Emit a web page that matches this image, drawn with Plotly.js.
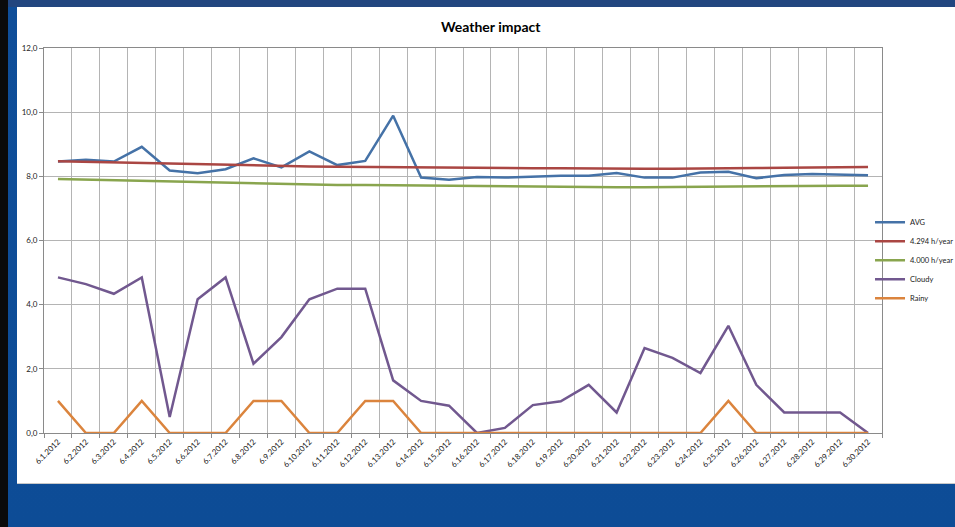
<!DOCTYPE html>
<html>
<head>
<meta charset="utf-8">
<script src="https://cdn.plot.ly/plotly-3.0.1.min.js"></script>
<style>
  html, body { margin: 0; padding: 0; width: 955px; height: 527px; overflow: hidden; }
  body { background: linear-gradient(#0f4e99, #0d4c96); position: relative; }
  #topbar { position: absolute; left: 0; top: 0; width: 955px; height: 7px; background: #22467f; }
  #leftbar { position: absolute; left: 0; top: 0; width: 8px; height: 527px; background: #0a0a0a; }
  #panel { position: absolute; left: 17px; top: 7px; width: 938px; height: 476px; background: #ffffff; border-bottom: 1px solid #c8c8c8; overflow: hidden; }
  #chart { width: 938px; height: 476px; }
</style>
</head>
<body>
<div id="topbar"></div>
<div id="leftbar"></div>
<div id="panel"><div id="chart"></div></div>
<script>
const categories = ["6.1.2012","6.2.2012","6.3.2012","6.4.2012","6.5.2012","6.6.2012","6.7.2012","6.8.2012","6.9.2012","6.10.2012",
  "6.11.2012","6.12.2012","6.13.2012","6.14.2012","6.15.2012","6.16.2012","6.17.2012","6.18.2012","6.19.2012","6.20.2012",
  "6.21.2012","6.22.2012","6.23.2012","6.24.2012","6.25.2012","6.26.2012","6.27.2012","6.28.2012","6.29.2012","6.30.2012"];

const avg = [8.46, 8.52, 8.46, 8.92, 8.18, 8.10, 8.22, 8.56, 8.28, 8.78,
  8.35, 8.48, 9.89, 7.96, 7.89, 7.98, 7.96, 7.99, 8.02, 8.02,
  8.10, 7.96, 7.96, 8.12, 8.14, 7.94, 8.04, 8.07, 8.04, 8.03];

const target4294 = [8.47, 8.45, 8.43, 8.41, 8.39, 8.37, 8.36, 8.34, 8.32, 8.31,
  8.30, 8.29, 8.28, 8.27, 8.27, 8.26, 8.25, 8.25, 8.25, 8.24,
  8.24, 8.24, 8.24, 8.24, 8.25, 8.26, 8.27, 8.28, 8.29, 8.29];

const target4000 = [7.92, 7.90, 7.88, 7.86, 7.84, 7.82, 7.80, 7.78, 7.76, 7.74,
  7.73, 7.73, 7.72, 7.71, 7.70, 7.69, 7.69, 7.68, 7.67, 7.66,
  7.66, 7.66, 7.67, 7.67, 7.68, 7.68, 7.69, 7.70, 7.71, 7.71];

const cloudy = [4.85, 4.64, 4.34, 4.85, 0.50, 4.17, 4.85, 2.16, 2.99, 4.17,
  4.50, 4.50, 1.64, 1.00, 0.85, 0.00, 0.16, 0.87, 0.99, 1.50,
  0.64, 2.65, 2.34, 1.87, 3.34, 1.50, 0.64, 0.64, 0.64, 0.00];

const rainy = [1, 0, 0, 1, 0, 0, 0, 1, 1, 0,
  0, 1, 1, 0, 0, 0, 0, 0, 0, 0,
  0, 0, 0, 0, 1, 0, 0, 0, 0, 0];

const seriesNames = ["AVG", "4.294 h/year", "4.000 h/year", "Cloudy", "Rainy"];
const seriesColors = ["#4572A7", "#AA4643", "#89A54E", "#71588F", "#DB843D"];
const seriesData = [avg, target4294, target4000, cloudy, rainy];

const yTicks = [0, 2, 4, 6, 8, 10, 12];

const font = "Lato, 'Open Sans', sans-serif";

const traces = seriesData.map((d, i) => ({
  type: "scatter",
  mode: "lines",
  name: seriesNames[i],
  x: categories,
  y: d,
  line: { color: seriesColors[i], width: 2.5 },
  hoverinfo: "skip"
}));

const layout = {
  width: 938,
  height: 476,
  paper_bgcolor: "#ffffff",
  plot_bgcolor: "#ffffff",
  margin: { l: 27, r: 73, t: 41, b: 50, autoexpand: false },
  separators: ",.",
  title: {
    text: "<b>Weather impact</b>",
    font: { family: font, size: 14, color: "#000000" },
    x: 0.505, xanchor: "center",
    y: 0.958, yanchor: "middle"
  },
  xaxis: {
    type: "category",
    range: [-0.5, 29.5],
    tickson: "boundaries",
    tickangle: -45,
    tickfont: { family: font, size: 8, color: "#222222" },
    showgrid: true,
    gridcolor: "#b4b4b4",
    gridwidth: 1,
    showline: true,
    linecolor: "#8a8a8a",
    linewidth: 1,
    mirror: true,
    ticks: "outside",
    ticklen: 4,
    tickcolor: "#8a8a8a",
    zeroline: false,
    automargin: false,
    fixedrange: true
  },
  yaxis: {
    range: [0, 12],
    tickvals: yTicks,
    tickformat: ".1f",
    tickfont: { family: font, size: 8, color: "#222222" },
    showgrid: true,
    gridcolor: "#b4b4b4",
    gridwidth: 1,
    showline: true,
    linecolor: "#8a8a8a",
    linewidth: 1,
    mirror: true,
    ticks: "outside",
    ticklen: 4,
    tickcolor: "#8a8a8a",
    zeroline: false,
    automargin: false,
    fixedrange: true
  },
  showlegend: true,
  legend: {
    x: 0.9857, xanchor: "left",
    y: 0.449, yanchor: "middle",
    font: { family: font, size: 7.5, color: "#222222" },
    itemwidth: 30,
    tracegroupgap: 0,
    bgcolor: "rgba(0,0,0,0)"
  }
};

Plotly.newPlot("chart", traces, layout, { staticPlot: true, displayModeBar: false });
</script>
</body>
</html>
